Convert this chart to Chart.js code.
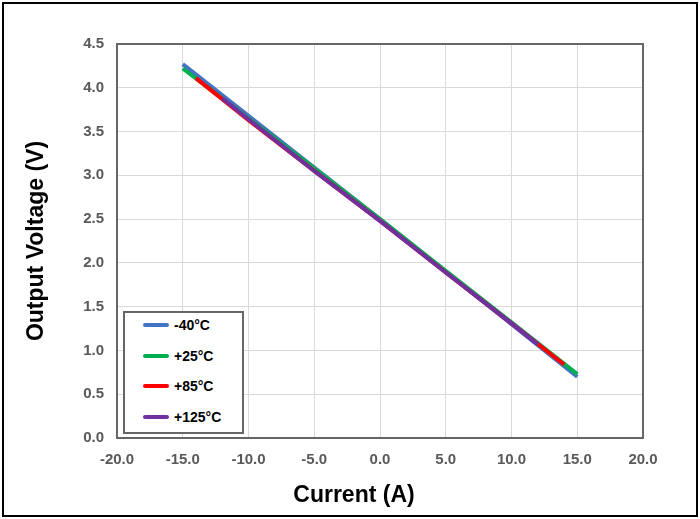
<!DOCTYPE html>
<html>
<head>
<meta charset="utf-8">
<script src="https://cdn.jsdelivr.net/npm/chart.js@4"></script>
<style>
  html, body { margin: 0; padding: 0; background: #fff; }
  #wrap { position: relative; width: 700px; height: 519px; }
  #frame { position: absolute; left: 2px; top: 2px; width: 692px; height: 511px; border: 2px solid #000; pointer-events: none; }
  #legend { position: absolute; left: 123px; top: 311px; width: 117px; height: 119px; border: 2px solid #666; background: #fff;
            font-family: "Liberation Sans", Arial, sans-serif; font-weight: bold; font-size: 14px; color: #000; }
  .row { position: absolute; left: 18px; height: 16px; line-height: 16px; white-space: nowrap; }
  .sw { display: inline-block; width: 26px; height: 4px; border-radius: 2px; vertical-align: middle; margin-right: 5px; position: relative; top: -1px; }
  #xtitle { position: absolute; left: 254px; width: 200px; top: 480px; height: 28px; line-height: 28px; text-align: center;
            font-family: "Liberation Sans", Arial, sans-serif; font-weight: bold; font-size: 23px; color: #000; }
</style>
</head>
<body>
<div id="wrap">
  <canvas id="c" width="700" height="519"></canvas>
  <div id="legend"></div>
  <div id="xtitle"></div>
  <div id="frame"></div>
</div>
<script>
const seriesLabels = ['-40°C', '+25°C', '+85°C', '+125°C'];
const seriesColors = ['#4472C4', '#00B050', '#FF0000', '#7030A0'];
const xAxisTitle = 'Current (A)';
const yAxisTitle = 'Output Voltage (V)';
const currentM40 = [-15, -10, -5, 0, 5, 10, 15];
const voltageM40 = [4.27, 3.68, 3.09, 2.50, 1.90, 1.30, 0.70];
const currentP25 = [-15, -10, -5, 0, 5, 10, 15];
const voltageP25 = [4.22, 3.65, 3.08, 2.50, 1.91, 1.32, 0.73];
const currentP85 = [-14, -10, -5, 0, 5, 10, 14];
const voltageP85 = [4.11, 3.63, 3.05, 2.48, 1.89, 1.31, 0.84];
const currentP125 = [-12, -10, -5, 0, 5, 10, 12];
const voltageP125 = [3.88, 3.64, 3.05, 2.48, 1.89, 1.31, 1.07];
const xTicks = [-20, -15, -10, -5, 0, 5, 10, 15, 20];
const yTicks = [0, 0.5, 1, 1.5, 2, 2.5, 3, 3.5, 4, 4.5];

const xs = [currentM40, currentP25, currentP85, currentP125];
const ys = [voltageM40, voltageP25, voltageP85, voltageP125];

const datasets = seriesLabels.map((lab, i) => ({
  label: lab,
  data: xs[i].map((x, j) => ({ x: x, y: ys[i][j] })),
  borderColor: seriesColors[i],
  backgroundColor: seriesColors[i],
  borderWidth: 4,
  pointRadius: 0,
  showLine: true,
  fill: false,
  tension: 0,
  order: seriesLabels.length - i
}));

const frameBox = {
  id: 'frameBox',
  afterDraw(chart) {
    const { ctx, chartArea } = chart;
    ctx.save();
    ctx.strokeStyle = '#666';
    ctx.lineWidth = 2;
    ctx.strokeRect(chartArea.left, chartArea.top, chartArea.right - chartArea.left, chartArea.bottom - chartArea.top);
    ctx.restore();
  }
};

const tickFont = { family: '"Liberation Sans", Arial, sans-serif', size: 15, weight: 'bold' };
const titleFont = { family: '"Liberation Sans", Arial, sans-serif', size: 23, weight: 'bold' };

new Chart(document.getElementById('c'), {
  type: 'scatter',
  data: { datasets: datasets },
  plugins: [frameBox],
  options: {
    responsive: false,
    animation: false,
    layout: { padding: { left: 0, top: 44, right: 57, bottom: 0 } },
    plugins: { legend: { display: false }, tooltip: { enabled: false } },
    scales: {
      x: {
        type: 'linear', min: -20, max: 20,
        afterBuildTicks: s => { s.ticks = xTicks.map(v => ({ value: v })); },
        afterFit: s => { s.height = 81; },
        grid: { color: '#d9d9d9', drawTicks: false },
        border: { display: false },
        ticks: { font: tickFont, color: '#595959', padding: 13, maxRotation: 0, callback: v => Number(v).toFixed(1) },
        title: { display: false }
      },
      y: {
        type: 'linear', min: 0, max: 4.5,
        afterBuildTicks: s => { s.ticks = yTicks.map(v => ({ value: v })); },
        afterFit: s => { s.width = 117; },
        grid: { color: '#d9d9d9', drawTicks: false },
        border: { display: false },
        ticks: { font: tickFont, color: '#595959', padding: 13, callback: v => Number(v).toFixed(1) },
        title: { display: true, text: yAxisTitle, font: titleFont, color: '#000', padding: { top: 23, bottom: 0 } }
      }
    }
  }
});

document.getElementById('xtitle').textContent = xAxisTitle;

const leg = document.getElementById('legend');
seriesLabels.forEach((lab, i) => {
  const r = document.createElement('div');
  r.className = 'row';
  r.style.top = (4 + i * 30.5) + 'px';
  const sw = document.createElement('span');
  sw.className = 'sw';
  sw.style.background = seriesColors[i];
  r.appendChild(sw);
  r.appendChild(document.createTextNode(lab));
  leg.appendChild(r);
});
</script>
</body>
</html>
